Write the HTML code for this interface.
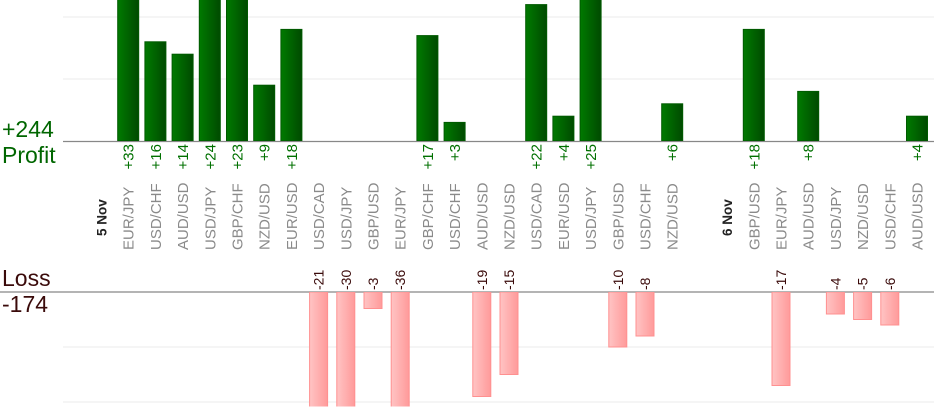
<!DOCTYPE html>
<html><head><meta charset="utf-8"><style>
html,body{margin:0;padding:0;background:#fff;width:934px;height:420px;overflow:hidden}
svg{display:block;font-family:"Liberation Sans",sans-serif;position:absolute;left:0;top:0}
</style></head><body>
<svg id="chart" width="934" height="420" viewBox="0 0 934 420">
<defs>
<linearGradient id="gg" x1="0" x2="1"><stop offset="0" stop-color="#007a00"/><stop offset="1" stop-color="#004a00"/></linearGradient>
<linearGradient id="rg" x1="0" x2="1"><stop offset="0" stop-color="#ffc4c4"/><stop offset="1" stop-color="#ff9a9a"/></linearGradient>
<clipPath id="pc"><rect x="0" y="0" width="934" height="141"/></clipPath>
<clipPath id="lc"><rect x="0" y="292" width="934" height="114.5"/></clipPath>
</defs>
<g id="grid"></g>
<g id="bars"></g>
<g id="labels"></g>
<text x="2" y="137" font-size="23" fill="#006600">+244</text>
<text x="2" y="163" font-size="23" fill="#006600">Profit</text>
<text x="2" y="286" font-size="23" fill="#3a0a0a">Loss</text>
<text x="2" y="312" font-size="23" fill="#3a0a0a">-174</text>
</svg>
<script>
const categories = ["5 Nov","EUR/JPY","USD/CHF","AUD/USD","USD/JPY","GBP/CHF","NZD/USD","EUR/USD","USD/CAD","USD/JPY","GBP/USD","EUR/JPY","GBP/CHF","USD/CHF","AUD/USD","NZD/USD","USD/CAD","EUR/USD","USD/JPY","GBP/USD","USD/CHF","NZD/USD","","6 Nov","GBP/USD","EUR/JPY","AUD/USD","USD/JPY","NZD/USD","USD/CHF","AUD/USD"];
const profits = [0,33,16,14,24,23,9,18,0,0,0,0,17,3,0,0,22,4,25,0,0,6,0,0,18,0,8,0,0,0,4];
const losses  = [0,0,0,0,0,0,0,0,21,30,3,36,0,0,19,15,0,0,0,10,8,0,0,0,0,17,0,4,5,6,0];
const profitGridValues = [10,20];
const lossGridValues = [10,20];

const NS="http://www.w3.org/2000/svg";
const x0=101, step=27.2, pBase=141, lBase=292, pScale=6.2, lScale=5.5;
const xAt=i=>x0+step*i;
const yP=v=>pBase-v*pScale;
const yL=v=>lBase+v*lScale;
function mk(tag,attrs,parent){const e=document.createElementNS(NS,tag);for(const k in attrs)e.setAttribute(k,attrs[k]);parent.appendChild(e);return e;}
const grid=document.getElementById('grid'),bars=document.getElementById('bars'),labels=document.getElementById('labels');
profitGridValues.forEach(v=>{const l=mk('line',{x1:63,x2:934,y1:yP(v),y2:yP(v),stroke:'#ebebeb','stroke-width':1},grid);

});
lossGridValues.forEach(v=>{const l=mk('line',{x1:63,x2:934,y1:yL(v),y2:yL(v),stroke:'#ebebeb','stroke-width':1},grid);

});
const gb=mk('g',{'clip-path':'url(#pc)'},bars), lb=mk('g',{'clip-path':'url(#lc)'},bars);
categories.forEach((c,i)=>{
  const cx=xAt(i);
  if(profits[i]>0){
    const r=mk('rect',{x:cx-10.5,y:yP(profits[i]),width:21,height:profits[i]*pScale,fill:'url(#gg)',stroke:'#005a00','stroke-width':1},gb);
    
    
    const t=mk('text',{transform:`translate(${cx+5.5},144) rotate(-90)`,'text-anchor':'end','font-size':15,fill:'#007000'},labels);
    t.textContent='+'+profits[i];
    
    
  }
  if(losses[i]>0){
    const r=mk('rect',{x:cx-9,y:lBase,width:18,height:losses[i]*lScale,fill:'url(#rg)',stroke:'#ff9090','stroke-width':1},lb);
    
    
    const t=mk('text',{transform:`translate(${cx+5},290) rotate(-90)`,'text-anchor':'start','font-size':14,fill:'#3a0a0a'},labels);
    t.textContent='-'+losses[i];
    
    
  }
  if(c){
    const isDate=c.indexOf('Nov')>=0;
    const t=mk('text',{transform:`translate(${cx+5.5},${isDate?236:250}) rotate(-90)`,'text-anchor':'start','font-size':isDate?13.5:15,'font-weight':isDate?'bold':'normal',fill:isDate?'#222':'#8a8a8a'},labels);
    t.textContent=c;
    
    
  }
});
const b1=mk('line',{x1:63,x2:934,y1:pBase+0.5,y2:pBase+0.5,stroke:'#888','stroke-width':1.3},grid);


const b2=mk('line',{x1:0,x2:934,y1:lBase,y2:lBase,stroke:'#888','stroke-width':1.3},grid);


</script>
</body></html>
